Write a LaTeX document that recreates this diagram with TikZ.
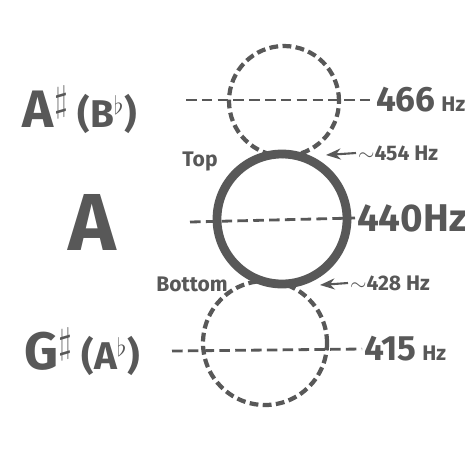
\documentclass[tikz,border=0pt]{standalone}
\usepackage{fontspec}
\setmainfont{Fira Sans}
\usetikzlibrary{arrows.meta}
\definecolor{ink}{RGB}{88,88,88}

\begin{document}
\begin{tikzpicture}[x=0.02cm,y=-0.02cm,>=Stealth,ink,
 ring/.style={draw,circle,line width=2.4pt,dash pattern=on 5pt off 2.5pt,inner sep=0pt},
 hline/.style={line width=1.6pt,dash pattern=on 6pt off 3pt},
 note/.style={inner sep=1pt,font=\bfseries\fontsize{20}{20}\selectfont},
 pitch/.style={inner sep=1pt,font=\bfseries\fontsize{30}{30}\selectfont},
 small/.style={inner sep=1pt,font=\bfseries\fontsize{12}{12}\selectfont}]
\useasboundingbox[fill=white] (0,0) rectangle (465,464);
% circles
\node[ring,minimum size=110*0.02cm] (up) at (284,101) {};
\node[draw,circle,line width=5pt,minimum size=130*0.02cm] (mid) at (282,219) {};
\node[ring,minimum size=124*0.02cm] (dn) at (265,343) {};
% note names
\node[pitch] (as) at (80,110) {A$^\sharp$\,{\fontsize{22}{22}\selectfont(B$^\flat$)}};
\node[inner sep=1pt,font=\bfseries\fontsize{46}{46}\selectfont] (a) at (92,222) {A};
\node[pitch] (gs) at (82,352) {G$^\sharp$\,{\fontsize{22}{22}\selectfont(A$^\flat$)}};
\node[small] (top) at (200,162) {Top};
\node[small] (bot) at (192,284) {Bottom};
% frequencies
\node[note,anchor=west] (f466) at (374,100) {466\,{\fontsize{12}{12}\selectfont Hz}};
\node[note,anchor=west,font=\bfseries\fontsize{22}{22}\selectfont] (f440) at (355,218) {440Hz};
\node[note,anchor=west] (f415) at (362,349) {415\,{\fontsize{12}{12}\selectfont Hz}};
\node[small,anchor=west] (f454) at (356,153) {$\sim$454 Hz};
\node[small,anchor=west] (f428) at (348,283) {$\sim$428 Hz};
\coordinate (j1) at (326,155);
\coordinate (j2) at (320,285);
\coordinate (l1) at (186,100);
\coordinate (l2) at (190,222);
\coordinate (l3) at (172,351);
\draw[hline] (l1) -- (f466.west);
\draw[hline] (l2) -- (f440.west);
\draw[hline] (l3) -- (f415.west);
\draw[->,line width=1.2pt] (f454.west) -- (j1);
\draw[->,line width=1.2pt] (f428.west) -- (j2);
\end{tikzpicture}
\end{document}
